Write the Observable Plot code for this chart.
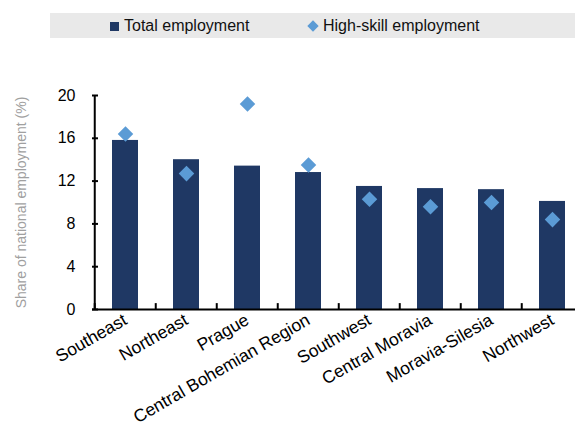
<!DOCTYPE html>
<html>
<head>
<meta charset="utf-8">
<script src="https://cdn.jsdelivr.net/npm/d3@7"></script>
<script src="https://cdn.jsdelivr.net/npm/@observablehq/plot@0.6"></script>
<style>
  html, body { margin: 0; padding: 0; background: #fff; overflow: hidden; width: 575px; height: 430px; }
  body { font-family: "Liberation Sans", Arial, sans-serif; }
  #legend { position: relative; height: 50px; width: 575px; }
  #legend .band { position: absolute; left: 50px; top: 13px; width: 525px; height: 25px; background: #e9e9e9; }
  #legend .item { position: absolute; top: 0; height: 25px; line-height: 25px; font-size: 16px; color: #111; white-space: nowrap; }
  #legend .sq { display: inline-block; width: 9px; height: 9px; background: #1f3864; margin-right: 5px; vertical-align: 0px; }
  #legend .dm { display: inline-block; width: 8px; height: 8px; background: #5b9bd5; transform: rotate(45deg); margin-right: 6px; margin-left: 2px; vertical-align: 1px; }
  #chart { position: relative; width: 575px; height: 380px; overflow: hidden; }
  #chart svg { max-width: none !important; }
</style>
</head>
<body>
<div id="legend"><div class="band">
  <div class="item" style="left:60px"><span class="sq"></span>Total employment</div>
  <div class="item" style="left:257px"><span class="dm"></span>High-skill employment</div>
</div></div>
<div id="chart"></div>
<script>
const regions = ["Southeast", "Northeast", "Prague", "Central Bohemian Region", "Southwest", "Central Moravia", "Moravia-Silesia", "Northwest"];
const totalEmployment = [15.8, 14.0, 13.4, 12.8, 11.5, 11.3, 11.2, 10.1];
const highSkillEmployment = [16.4, 12.7, 19.2, 13.5, 10.3, 9.6, 10.0, 8.4];
const yTicks = [0, 4, 8, 12, 16, 20];
const yLabel = "Share of national employment (%)";

const data = regions.map((r, i) => ({ region: r, total: totalEmployment[i], high: highSkillEmployment[i] }));

const W = 584, ML = 92, MR = 0;
const halfStep = (W - ML - MR) / regions.length / 2;

const chart = Plot.plot({
  width: W,
  height: 380,
  marginLeft: ML,
  marginRight: MR,
  marginTop: 45,
  marginBottom: 121,
  style: { fontFamily: "'Liberation Sans', Arial, sans-serif", fontSize: "16px", color: "#000", background: "transparent", maxWidth: "none" },
  x: { domain: regions, paddingInner: 0.58, paddingOuter: 0.29 },
  y: { domain: [0, 20] },
  marks: [
    Plot.barY(data, { x: "region", y: "total", fill: "#1f3864" }),
    Plot.dot(data, { x: "region", y: "high", symbol: "diamond2", r: 7, fill: "#5b9bd5" }),
    // x ticks between categories (inside)
    Plot.ruleX(data, { x: "region", dx: -halfStep, y1: 0, y2: 0.55, stroke: "#000", strokeWidth: 2 }),
    // y axis line
    Plot.ruleX([regions[0]], { x: d => d, dx: -halfStep, y1: 0, y2: 20, stroke: "#000", strokeWidth: 2 }),
    // x axis line
    Plot.ruleY([0], { stroke: "#000", strokeWidth: 2 }),
    // y inside ticks
    Plot.axisY({ ticks: yTicks, tickSize: 6, dx: 6, text: null, label: null, strokeWidth: 2 }),
    // y tick labels
    Plot.axisY({ ticks: yTicks, tickSize: 0, tickPadding: 17, label: yLabel, labelAnchor: "center", labelArrow: "none", labelOffset: 76 }),
    Plot.axisX({ tickSize: 0, tickRotate: -30, tickPadding: 9, label: null, fontSize: 17.5 })
  ]
});
chart.style.maxWidth = "none";
document.getElementById("chart").appendChild(chart);
chart.querySelectorAll("g[aria-label='y-axis label'] text, g[aria-label='y-axis label']").forEach(el => { el.setAttribute("fill", "#a0a0a0"); el.style.fontSize = "14px"; });
</script>
</body>
</html>
